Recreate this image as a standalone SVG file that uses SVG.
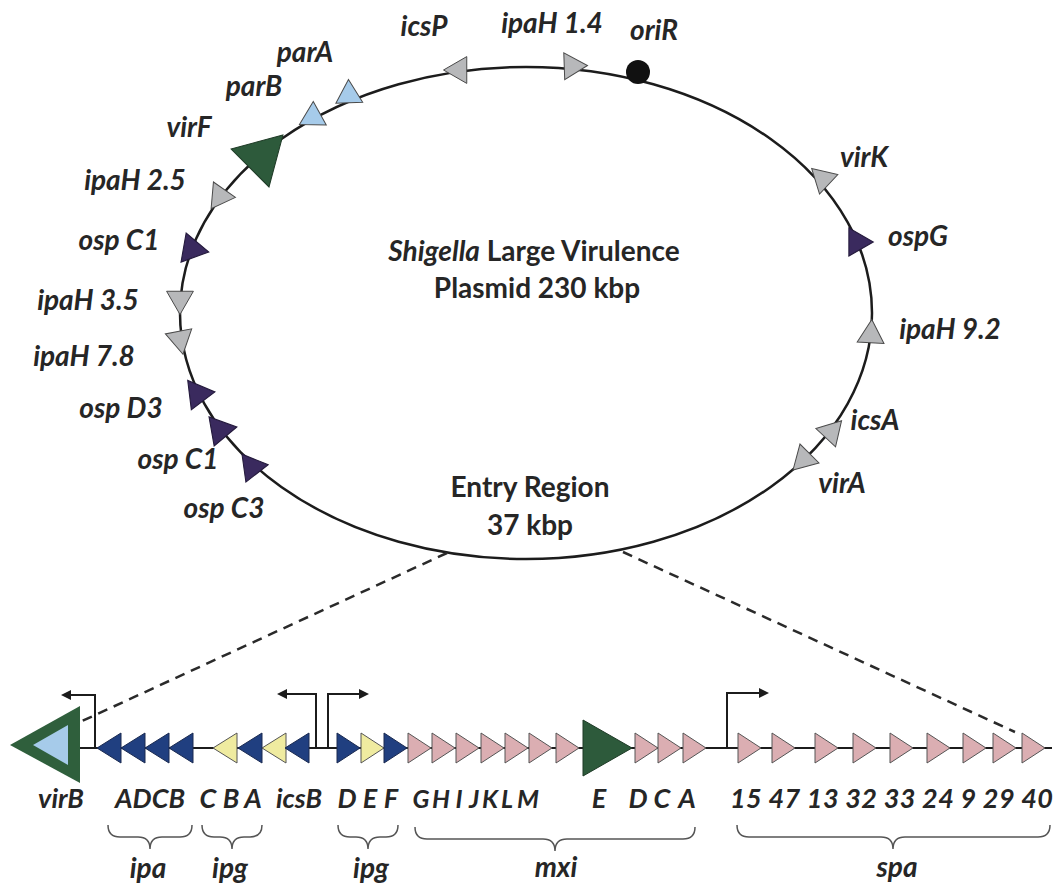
<svg xmlns="http://www.w3.org/2000/svg" xmlns:xlink="http://www.w3.org/1999/xlink" width="1062" height="884" viewBox="0 0 1062 884">
<style>
.lbl{font-family:Lato,"Open Sans","Liberation Sans",sans-serif;font-weight:bold;font-style:italic;font-size:28px;fill:#262626}
.ctr{font-family:Lato,"Open Sans","Liberation Sans",sans-serif;font-weight:bold;font-size:28px;fill:#262626;text-anchor:middle}
.bl{font-family:Lato,"Open Sans","Liberation Sans",sans-serif;font-weight:bold;font-style:italic;font-size:27px;fill:#262626;text-anchor:middle}
.m{text-anchor:middle}
.gray{fill:#b7b8ba;stroke:#4a4a4a;stroke-width:1}
.lblue{fill:#a6cbea;stroke:#4a4a4a;stroke-width:1}
.green{fill:#2d5a3b;stroke:#1e3a26;stroke-width:1}
.purple{fill:#3a2a5e;stroke:#241a3c;stroke-width:1}
.navy{fill:#203f80;stroke:#1a2a50;stroke-width:1}
.yellow{fill:#efeba0;stroke:#555;stroke-width:1}
.pink{fill:#dbaeb2;stroke:#555;stroke-width:1}
.line{fill:none;stroke:#1c1c1c;stroke-width:2.5}
.dash{fill:none;stroke:#2a2a2a;stroke-width:2.5;stroke-dasharray:10 7}
.prom{fill:none;stroke:#1c1c1c;stroke-width:2}
.brace{fill:none;stroke:#555;stroke-width:1.5}
</style>
<defs>
<path id="t" d="M15.5,0 L-7.75,13.4 L-7.75,-13.4 Z"/>
<path id="L" d="M0,0 L24,-15 L24,15 Z"/>
<path id="R" d="M0,-15 L23,0 L0,15 Z"/>
<marker id="ah" viewBox="0 0 10 10" refX="8" refY="5" markerWidth="10" markerHeight="10" markerUnits="userSpaceOnUse" orient="auto">
<path d="M0,0 L10,5 L0,10 Z" fill="#1c1c1c"/>
</marker>
</defs>

<g id="connectors">
<ellipse class="line" cx="526" cy="313" rx="346" ry="246"/>
<path class="dash" d="M447,553 L80,722"/>
<path class="dash" d="M623,552 L1015,732"/>
<path class="line" d="M80,748 L1052,748" style="stroke-width:2"/>
<path class="prom" d="M95,748 V695 H63" marker-end="url(#ah)"/>
<path class="prom" d="M316,748 V694 H279" marker-end="url(#ah)"/>
<path class="prom" d="M328,748 V694 H367" marker-end="url(#ah)"/>
<path class="prom" d="M727,748 V693 H767" marker-end="url(#ah)"/>
</g>

<g id="plasmid-label">
<text class="ctr" x="534" y="261"><tspan font-style="italic">Shigella</tspan> Large Virulence</text>
<text class="ctr" x="537" y="298">Plasmid 230 kbp</text>
</g>
<g id="entry-label">
<text class="ctr" x="530" y="497">Entry Region</text>
<text class="ctr" x="530" y="535">37 kbp</text>
</g>

<g id="oriR"><circle cx="638" cy="72" r="12" fill="#111"/><text class="lbl m" x="654" y="40">oriR</text></g>
<g id="icsP"><use href="#t" class="gray" transform="translate(459,70) rotate(180)"/><text class="lbl m" x="424" y="36">icsP</text></g>
<g id="ipaH1.4"><use href="#t" class="gray" transform="translate(572,66) rotate(-2)"/><text class="lbl m" x="552" y="33">ipaH 1.4</text></g>
<g id="parA"><use href="#t" class="lblue" transform="translate(349,95) rotate(-92)"/><text class="lbl m" x="305" y="62">parA</text></g>
<g id="parB"><use href="#t" class="lblue" transform="translate(313,117) rotate(-89)"/><text class="lbl m" x="254" y="96">parB</text></g>
<g id="virF"><use href="#t" class="green" transform="translate(261,157) rotate(-45) scale(2)" style="stroke-width:0.5"/><text class="lbl m" x="189" y="137">virF</text></g>
<g id="ipaH2.5"><use href="#t" class="gray" transform="translate(220,196) rotate(5)"/><text class="lbl m" x="135" y="190">ipaH 2.5</text></g>
<g id="ospC1a"><use href="#t" class="purple" transform="translate(192,249) rotate(10) scale(1.1)"/><text class="lbl m" x="119" y="250">osp C1</text></g>
<g id="ipaH3.5"><use href="#t" class="gray" transform="translate(180,299) rotate(90)"/><text class="lbl m" x="88" y="310">ipaH 3.5</text></g>
<g id="ipaH7.8"><use href="#t" class="gray" transform="translate(180,339) rotate(79)"/><text class="lbl m" x="84" y="366">ipaH 7.8</text></g>
<g id="ospD3"><use href="#t" class="purple" transform="translate(198,394) rotate(-7) scale(1.1)"/><text class="lbl m" x="121" y="418">osp D3</text></g>
<g id="ospC1b"><use href="#t" class="purple" transform="translate(220,430) rotate(-10) scale(1.1)"/><text class="lbl m" x="178" y="469">osp C1</text></g>
<g id="ospC3"><use href="#t" class="purple" transform="translate(252,467) rotate(-8) scale(1.05)"/><text class="lbl m" x="224" y="518">osp C3</text></g>
<g id="virK"><use href="#t" class="gray" transform="translate(823,179) rotate(-137)"/><text class="lbl m" x="864" y="167">virK</text></g>
<g id="ospG"><use href="#t" class="purple" transform="translate(857,242) rotate(0) scale(1.05)"/><text class="lbl m" x="918" y="246">ospG</text></g>
<g id="ipaH9.2"><use href="#t" class="gray" transform="translate(871,335) rotate(-87)"/><text class="lbl m" x="950" y="339">ipaH 9.2</text></g>
<g id="icsA"><use href="#t" class="gray" transform="translate(831,432) rotate(-167)"/><text class="lbl m" x="875" y="430">icsA</text></g>
<g id="virA"><use href="#t" class="gray" transform="translate(804,459) rotate(15)"/><text class="lbl m" x="842" y="493">virA</text></g>

<g id="virB">
<path d="M10,745 L80,706 L80,783 Z" fill="#2f5f3c"/>
<path d="M33,745 L68,725 L68,765 Z" fill="#a6cbea"/>
<text class="bl" x="61" y="808">virB</text>
</g>

<g id="ipa">
<use href="#L" class="navy" transform="translate(97,748)"/>
<use href="#L" class="navy" transform="translate(121,748)"/>
<use href="#L" class="navy" transform="translate(145,748)"/>
<use href="#L" class="navy" transform="translate(169,748)"/>
<text class="bl" x="150" y="808">ADCB</text>
<path class="brace" d="M108,825 Q108,837 120,837 L138,837 Q150,837 150,849 Q150,837 162,837 L180,837 Q192,837 192,825"/>
<text class="bl" x="148" y="878" style="font-size:28px">ipa</text>
</g>

<g id="ipg1">
<use href="#L" class="yellow" transform="translate(213,748)"/>
<use href="#L" class="navy" transform="translate(238,748)"/>
<use href="#L" class="yellow" transform="translate(262,748)"/>
<text class="bl" x="208" y="808">C</text>
<text class="bl" x="231" y="808">B</text>
<text class="bl" x="253" y="808">A</text>
<path class="brace" d="M202,825 Q202,837 214,837 L220,837 Q232,837 232,849 Q232,837 244,837 L250,837 Q262,837 262,825"/>
<text class="bl" x="230" y="878" style="font-size:28px">ipg</text>
</g>

<g id="icsB">
<use href="#L" class="navy" transform="translate(285,748)"/>
<text class="bl" x="299" y="808">icsB</text>
</g>

<g id="ipg2">
<use href="#R" class="navy" transform="translate(337,748)"/>
<use href="#R" class="yellow" transform="translate(361,748)"/>
<use href="#R" class="navy" transform="translate(384,748)"/>
<text class="bl" x="347" y="808">D</text>
<text class="bl" x="370" y="808">E</text>
<text class="bl" x="391" y="808">F</text>
<path class="brace" d="M338,825 Q338,837 350,837 L356,837 Q368,837 368,849 Q368,837 380,837 L386,837 Q398,837 398,825"/>
<text class="bl" x="371" y="878" style="font-size:28px">ipg</text>
</g>

<g id="mxi">
<use href="#R" class="pink" transform="translate(408,748)"/>
<use href="#R" class="pink" transform="translate(432,748)"/>
<use href="#R" class="pink" transform="translate(456,748)"/>
<use href="#R" class="pink" transform="translate(481,748)"/>
<use href="#R" class="pink" transform="translate(505,748)"/>
<use href="#R" class="pink" transform="translate(529,748)"/>
<use href="#R" class="pink" transform="translate(556,748)"/>
<path d="M583,720 L632,748 L583,776 Z" class="green"/>
<use href="#R" class="pink" transform="translate(635,748)"/>
<use href="#R" class="pink" transform="translate(658,748)"/>
<use href="#R" class="pink" transform="translate(683,748)"/>
<text class="bl" x="421 441 459 474 490 507 528" y="808" style="font-size:25px">GHIJKLM</text>
<text class="bl" x="599" y="808">E</text>
<text class="bl" x="638 662 687" y="808">DCA</text>
<path class="brace" d="M415,827 Q415,839 427,839 L543,839 Q555,839 555,851 Q555,839 567,839 L683,839 Q695,839 695,827"/>
<text class="bl" x="556" y="877" style="font-size:28px">mxi</text>
</g>

<g id="spa">
<use href="#R" class="pink" transform="translate(738,748)"/>
<use href="#R" class="pink" transform="translate(772,748)"/>
<use href="#R" class="pink" transform="translate(815,748)"/>
<use href="#R" class="pink" transform="translate(853,748)"/>
<use href="#R" class="pink" transform="translate(890,748)"/>
<use href="#R" class="pink" transform="translate(927,748)"/>
<use href="#R" class="pink" transform="translate(963,748)"/>
<use href="#R" class="pink" transform="translate(993,748)"/>
<use href="#R" class="pink" transform="translate(1022,748)"/>
<text class="bl" x="730" y="808" style="text-anchor:start" textLength="323" lengthAdjust="spacing">15 47 13 32 33 24 9 29 40</text>
<path class="brace" d="M737,825 Q737,837 749,837 L881,837 Q893,837 893,849 Q893,837 905,837 L1038,837 Q1050,837 1050,825"/>
<text class="bl" x="897" y="877" style="font-size:28px">spa</text>
</g>
</svg>
